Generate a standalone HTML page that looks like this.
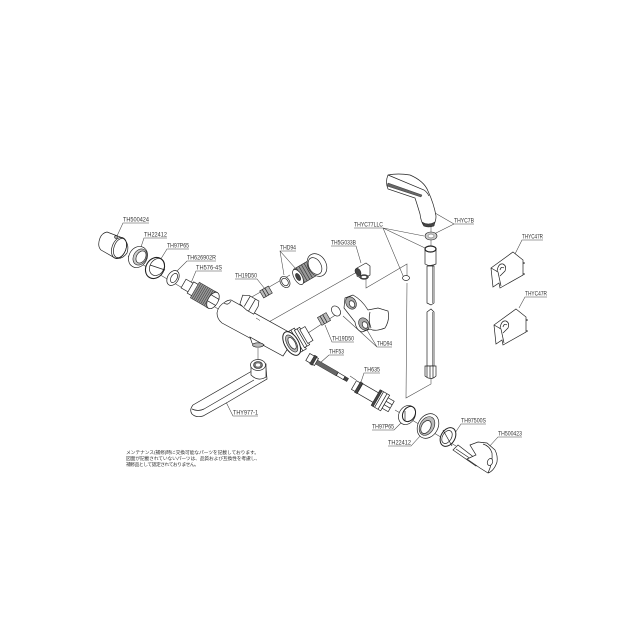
<!DOCTYPE html>
<html><head><meta charset="utf-8"><style>
html,body{margin:0;padding:0;background:#fff}
svg{display:block;filter:blur(.3px)}
text{font-family:"Liberation Sans","Noto Sans CJK JP",sans-serif;fill:#333}
.l{font-size:6.5px}
.j{font-size:4.8px}
.t{fill:none;stroke:#444;stroke-width:.55}
.s{fill:#fff;stroke:#222;stroke-width:.7}
.n{fill:none;stroke:#222;stroke-width:.7}
.d{fill:#444;stroke:#222;stroke-width:.5}
.g{fill:#aaa;stroke:#222;stroke-width:.6}
</style></head><body>
<svg width="640" height="640" viewBox="0 0 640 640" xmlns="http://www.w3.org/2000/svg">
<rect width="640" height="640" fill="#fff"/>

<!-- axis lines -->
<g class="t">
<path d="M128 256L220 310"/>
<path d="M250 298L290 275"/>
<path d="M267 323L357 272"/>
<path d="M305 335L340 312"/>
<path d="M258 348V360"/>
<path d="M350 376L356 380M395 410L456 446"/>
<path d="M366 272V288L407 264V276"/>
<path d="M407 283L406 398L431 384V378"/>
<path d="M431 225V246"/>
</g>

<!-- leaders -->
<g class="t">
<path d="M149 223H123L117 236"/>
<path d="M167 238H144L140 250"/>
<path d="M189 249H167L159 262"/>
<path d="M216 261H187L177 271"/>
<path d="M222 271H196L191 283"/>
<path d="M235 279H257L265 289"/>
<path d="M296 251H280L284 275M280 251L296 269"/>
<path d="M331 246H356L361 263"/>
<path d="M354 342H332L325 325"/>
<path d="M392 347H377L343 316M377 347L367 330"/>
<path d="M344 355H329L320 363"/>
<path d="M380 373H364L361 382"/>
<path d="M372 430H394L403 421"/>
<path d="M388 446H411L421 435"/>
<path d="M486 424H461L453 436"/>
<path d="M522 437H498L488 448"/>
<path d="M258 416H233L226 402"/>
<path d="M354 228H383L424 236M383 228L425 248M383 228L404 278"/>
<path d="M474 224H454L435 213M454 224L434 234"/>
<path d="M543 240H522L515 254"/>
<path d="M547 297H525L519 308"/>
</g>

<!-- left cap TH500424 -->
<path class="s" d="M107 232L123 238Q130 244 127 253Q122 260 115 258L101 250Q97 246 100 238Q102 233 107 232Z"/>
<ellipse class="n" cx="119" cy="248" rx="7" ry="11" transform="rotate(20 119 248)"/>
<ellipse class="n" cx="120" cy="248" rx="6" ry="10" transform="rotate(20 120 248)"/>
<circle class="g" cx="116" cy="237" r="1.4"/>
<!-- ring TH22412 -->
<ellipse class="s" cx="138" cy="257" rx="9" ry="11" transform="rotate(30 138 257)"/>
<ellipse class="g" cx="140" cy="257" rx="6.5" ry="8.5" transform="rotate(30 140 257)" style="fill:#ccc"/>
<ellipse class="s" cx="141" cy="257" rx="4.5" ry="6.5" transform="rotate(30 141 257)"/>
<!-- ring TH97P65 -->
<ellipse class="s" cx="155" cy="268" rx="9" ry="11" transform="rotate(30 155 268)" style="stroke-width:1.1"/>
<ellipse class="n" cx="157" cy="267" rx="7" ry="9" transform="rotate(30 157 267)"/>
<path class="n" d="M150 265L165 270"/>
<!-- washer -->
<ellipse class="s" cx="173" cy="278" rx="5.5" ry="8" transform="rotate(30 173 278)"/>
<ellipse class="n" cx="174" cy="278" rx="3" ry="5" transform="rotate(30 174 278)"/>
<!-- TH576-45 threaded -->
<g transform="translate(200 293) rotate(30)">
<rect class="s" x="-19" y="-5" width="9" height="10"/>
<rect class="s" x="-11" y="-6.5" width="6" height="13"/>
<rect x="-6" y="-9" width="18" height="18" fill="#999" stroke="#222" stroke-width=".5"/>
<path d="M-4-9V9M-2-9V9M0-9V9M2-9V9M4-9V9M6-9V9M8-9V9M10-9V9" stroke="#333" stroke-width=".5"/>
<ellipse class="s" cx="15" cy="0" rx="5" ry="9"/>
<path class="s" d="M12-9H15M12 9H15"/>
<path class="n" d="M11-4H20M11 3H20"/>
</g>

<!-- main body -->
<path class="s" d="M225 302Q218 306 217 313Q217 319 222 323L283 356L296 336L231 300Q228 300 225 302Z"/>
<path class="n" d="M224 303Q228 306 231 301"/>
<path class="d" d="M256 318L260 320.5" stroke-width="1.2"/>
<!-- top port -->
<g transform="translate(248 304) rotate(30)">
<path class="s" d="M-9-5L-3-8H8L10-3V6H2L-7 4Z"/>
<path class="n" d="M-2-8V4M4-8V6"/>
</g>
<!-- bottom port -->
<path class="s" d="M250 337L264 345L262 346Q255 348 252 343Z"/>
<ellipse class="g" cx="258" cy="345" rx="5.5" ry="2.2" style="fill:#bbb"/>
<!-- right end -->
<g transform="translate(296 341) rotate(-30)">
<path class="s" d="M-5-12H5V12H-5Z"/>
<path class="s" d="M4-10H10V10H4Z"/>
<path class="s" d="M9-8H15V8H9Z"/>
<path class="n" d="M1-12V12M7-10V10"/>
<ellipse class="s" cx="-5" cy="0" rx="7" ry="13" style="stroke-width:1"/>
<ellipse class="g" cx="-5" cy="0" rx="4.5" ry="9.5" style="fill:#bbb"/>
<ellipse class="s" cx="-4.5" cy="0" rx="3" ry="6.5"/>
</g>

<!-- spout -->
<path class="s" d="M252 371L193 405Q189 410 192 414Q196 418 203 416L228 402L267 379L266 368Z"/>
<path class="n" d="M192 409Q198 412 204 409L254 380"/>
<path class="s" d="M251 364V375Q258 382 266 377V364Z"/>
<ellipse class="s" cx="258" cy="365" rx="7.5" ry="5.5"/>
<ellipse class="g" cx="258" cy="365" rx="4.5" ry="3.5" style="fill:#777"/>
<ellipse cx="258" cy="365" rx="2.2" ry="1.6" fill="#fff"/>

<!-- TH19D50 upper -->
<g transform="translate(266 292) rotate(-30)">
<rect class="g" x="-5" y="-4" width="10" height="8" style="fill:#bbb"/>
<path class="n" d="M-2-4V4M1-4V4"/>
</g>
<!-- THD94 upper washer + cartridge -->
<ellipse class="s" cx="285" cy="282" rx="4.5" ry="6" transform="rotate(-35 285 282)"/>
<ellipse class="n" cx="285" cy="282" rx="3" ry="4" transform="rotate(-35 285 282)"/>
<g transform="translate(305 273) rotate(-30)">
<rect x="-8" y="-9" width="17" height="17" fill="#999" stroke="#222" stroke-width=".6"/>
<path d="M-5-9V8M-2-9V8M1-9V8M4-9V8" stroke="#333" stroke-width=".6"/>
<ellipse class="s" cx="-8" cy="0" rx="4" ry="8.5"/>
<ellipse class="d" cx="-8" cy="0" rx="2" ry="4"/>
</g>
<ellipse class="s" cx="317" cy="265" rx="9" ry="12" transform="rotate(-30 317 265)"/>
<ellipse class="n" cx="315" cy="266" rx="6" ry="9" transform="rotate(-30 315 266)"/>
<!-- elbow TH5G033B -->
<path class="s" d="M357 268L366 263L370 266V275L363 279L357 276Z"/>
<ellipse class="d" cx="358" cy="272" rx="2.6" ry="4" transform="rotate(-30 358 272)"/>
<ellipse class="d" cx="364" cy="277" rx="4.5" ry="2.4"/>
<ellipse cx="364" cy="277" rx="2.5" ry="1.1" fill="#fff"/>

<!-- TH19D50 lower -->
<g transform="translate(324 319) rotate(-30)">
<rect class="g" x="-5" y="-4.5" width="10" height="9" style="fill:#bbb"/>
<path class="n" d="M-2-4.5V4.5M1-4.5V4.5"/>
</g>
<!-- THD94 lower -->
<ellipse class="s" cx="336" cy="311" rx="4" ry="5.5" transform="rotate(-35 336 311)"/>
<path class="s" d="M345 298L353 295Q362 300 368 310L378 308L388 311Q390 320 385 328Q375 332 370 329L362 332Q356 330 355 322L344 308Z"/>
<path class="n" d="M370 312Q368 320 371 328"/>
<ellipse class="g" cx="351" cy="303" rx="5" ry="6.5" transform="rotate(-30 351 303)"/>
<ellipse class="s" cx="352" cy="304" rx="2.5" ry="3.5" transform="rotate(-30 352 304)"/>
<ellipse class="g" cx="364" cy="324" rx="5" ry="6.5" transform="rotate(-30 364 324)"/>
<ellipse class="s" cx="365" cy="325" rx="2.5" ry="3.5" transform="rotate(-30 365 325)"/>

<!-- THF53 -->
<g transform="translate(313 360) rotate(30)">
<rect class="s" x="-6" y="-4" width="10" height="8"/>
<rect class="d" x="-1" y="-5" width="3" height="10"/>
<rect x="4" y="-2.2" width="24" height="4.4" fill="#666" stroke="#222" stroke-width=".4"/>
<rect class="s" x="28" y="-1.8" width="8" height="3.6"/>
<rect class="d" x="36" y="-1.8" width="4" height="3.6"/>
</g>
<!-- TH635 -->
<g transform="translate(373 396) rotate(30)">
<rect class="s" x="-22" y="-5" width="10" height="10"/>
<rect class="d" x="-18" y="-6" width="3" height="12"/>
<rect class="s" x="-15" y="-5.5" width="19" height="11"/>
<rect class="s" x="4" y="-9" width="10" height="18"/>
<path class="n" d="M7-9V9M11-9V9"/>
<rect class="d" x="3" y="-9" width="2.5" height="18"/>
<rect class="s" x="14" y="-6" width="7" height="12"/>
<path class="n" d="M14-2H21M14 2H21"/>
</g>
<!-- lower rings -->
<ellipse class="s" cx="407" cy="415" rx="8" ry="10" transform="rotate(30 407 415)"/>
<ellipse class="n" cx="409" cy="414" rx="6" ry="8" transform="rotate(30 409 414)" style="stroke-width:1"/>
<path class="n" d="M405 411V421"/>
<ellipse class="s" cx="428" cy="426" rx="10" ry="13" transform="rotate(30 428 426)"/>
<ellipse class="g" cx="427" cy="426" rx="7" ry="10" transform="rotate(30 427 426)" style="fill:#bbb"/>
<ellipse class="s" cx="426" cy="427" rx="4.5" ry="7" transform="rotate(30 426 427)"/>
<ellipse class="s" cx="448" cy="437" rx="7" ry="10" transform="rotate(30 448 437)" style="stroke-width:1"/>
<ellipse class="n" cx="447" cy="437" rx="4.5" ry="7" transform="rotate(30 447 437)"/>
<path class="n" d="M443 430L452 446"/>
<!-- TH500423 -->
<path class="s" d="M458 445L453 450L476 466L480 462Z"/>
<path class="n" d="M456 449L477 463"/>
<path class="s" d="M470 445L478 442L487 443L495 450Q498 456 497 462Q494 471 488 473L480 468L467 459L476 455Z"/>
<path class="n" d="M483 444Q490 446 492 453Q493 462 488 473"/>
<ellipse class="s" cx="490" cy="462" rx="2.6" ry="3.6" transform="rotate(20 490 462)"/>

<!-- shower head -->
<path class="s" d="M388 175Q398 173 410 175Q424 181 428 191Q434 204 436 216Q436 224 431 226L424 226Q421 222 420 214Q417 204 415 198L388 189Q385 182 388 175Z"/>
<path class="n" d="M388 175L424 190Q427 192 429 196"/>
<path d="M387 186L421 197L422 195L388 183Z" fill="#666" stroke="#222" stroke-width=".4"/>
<path class="d" d="M422 222Q428 226 435 222L434 226Q428 228 424 226Z"/>
<ellipse class="g" cx="431" cy="236" rx="6" ry="4" style="fill:#ccc"/>
<ellipse cx="431" cy="236" rx="3" ry="2" fill="#fff" stroke="#444" stroke-width=".5"/>
<!-- hose -->
<path class="s" d="M425 249V264Q430 267 436 264V249Z"/>
<path class="s" d="M427 266V303L431 305L434 303V266Z"/>
<path class="s" d="M427 366V312L431 309L434 312V366Z"/>
<path class="n" d="M432.5 266V303M432.5 312V366" style="stroke-width:.5"/>
<ellipse class="s" cx="430.5" cy="249" rx="5.5" ry="3" style="stroke-width:1.2"/>
<path class="s" d="M425 366H436V376Q431 381 425 376Z"/>
<path class="n" d="M427 366V377M430 366V378M433 366V378"/>
<!-- small washer THYC -->
<ellipse class="s" cx="406" cy="278" rx="3.5" ry="2.5"/>

<!-- brackets -->
<g>
<path class="s" d="M513 252L523 260V275L500 288L499 283L493 287L491 268Z"/>
<path class="n" d="M491 268L498 272L501 286"/>
<path class="n" d="M497 272Q498 263 503 264Q507 266 505 271L500 276"/>
<path class="n" d="M500 270Q501 266 504 268"/>
<circle cx="524" cy="263" r=".8" fill="#222"/><circle cx="524" cy="274" r=".8" fill="#222"/>
</g>
<g transform="translate(3 57)">
<path class="s" d="M513 252L523 260V275L500 288L499 283L493 287L491 268Z"/>
<path class="n" d="M491 268L498 272L501 286"/>
<path class="n" d="M497 272Q498 263 503 264Q507 266 505 271L500 276"/>
<path class="n" d="M500 270Q501 266 504 268"/>
<circle cx="524" cy="263" r=".8" fill="#222"/><circle cx="524" cy="274" r=".8" fill="#222"/>
</g>

<!-- labels -->
<g class="l">
<text x="123" y="221.5" textLength="26" lengthAdjust="spacingAndGlyphs">TH500424</text>
<text x="144" y="236.5" textLength="23" lengthAdjust="spacingAndGlyphs">TH22412</text>
<text x="167" y="247.5" textLength="22" lengthAdjust="spacingAndGlyphs">TH97P65</text>
<text x="187" y="259.5" textLength="29" lengthAdjust="spacingAndGlyphs">TH626902R</text>
<text x="196" y="269.5" textLength="26" lengthAdjust="spacingAndGlyphs">TH576-4S</text>
<text x="235" y="277.5" textLength="22" lengthAdjust="spacingAndGlyphs">TH19D50</text>
<text x="280" y="249.5" textLength="16" lengthAdjust="spacingAndGlyphs">THD94</text>
<text x="331" y="244.5" textLength="25" lengthAdjust="spacingAndGlyphs">TH5G033B</text>
<text x="332" y="340.5" textLength="22" lengthAdjust="spacingAndGlyphs">TH19D50</text>
<text x="377" y="345.5" textLength="15" lengthAdjust="spacingAndGlyphs">THD94</text>
<text x="329" y="353.5" textLength="15" lengthAdjust="spacingAndGlyphs">THF53</text>
<text x="364" y="371.5" textLength="16" lengthAdjust="spacingAndGlyphs">TH635</text>
<text x="372" y="428.5" textLength="22" lengthAdjust="spacingAndGlyphs">TH97P65</text>
<text x="388" y="444.5" textLength="23" lengthAdjust="spacingAndGlyphs">TH22412</text>
<text x="461" y="422.5" textLength="25" lengthAdjust="spacingAndGlyphs">TH97500S</text>
<text x="498" y="435.5" textLength="24" lengthAdjust="spacingAndGlyphs">TH500423</text>
<text x="233" y="414.5" textLength="25" lengthAdjust="spacingAndGlyphs">THY977-1</text>
<text x="354" y="226.5" textLength="29" lengthAdjust="spacingAndGlyphs">THYC77LLC</text>
<text x="454" y="222.5" textLength="20" lengthAdjust="spacingAndGlyphs">THYC7B</text>
<text x="522" y="238.5" textLength="21" lengthAdjust="spacingAndGlyphs">THYC47R</text>
<text x="525" y="295.5" textLength="22" lengthAdjust="spacingAndGlyphs">THYC47R</text>
</g>
<g class="j">
<text x="126" y="454" textLength="133" lengthAdjust="spacing">メンテナンス(補修)時に交換可能なパーツを記載しております。</text>
<text x="126" y="460" textLength="134" lengthAdjust="spacing">図面が記載されていないパーツは、品質および互換性を考慮し、</text>
<text x="126" y="466" textLength="73" lengthAdjust="spacing">補修品として認定されておりません。</text>
</g>
</svg>
</body></html>
